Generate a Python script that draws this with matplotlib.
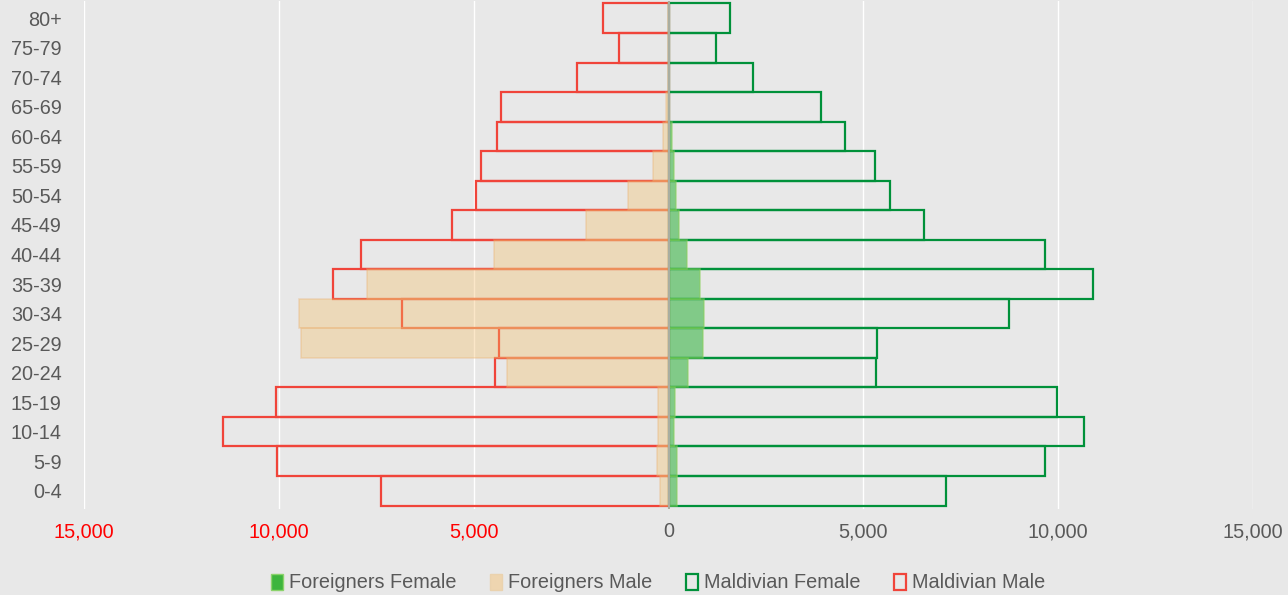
import numpy as np
import matplotlib
matplotlib.use('Agg')
import matplotlib.pyplot as plt
from matplotlib.patches import Patch
from matplotlib.ticker import FuncFormatter

plt.rcParams['font.family'] = ['Liberation Sans', 'DejaVu Sans']

# age groups, bottom to top
ages = ['0-4', '5-9', '10-14', '15-19', '20-24', '25-29', '30-34', '35-39', '40-44',
        '45-49', '50-54', '55-59', '60-64', '65-69', '70-74', '75-79', '80+']

maldivian_male = [7385, 10050, 11440, 10080, 4440, 4360, 6850, 8620, 7900,
                  5560, 4950, 4820, 4390, 4310, 2360, 1280, 1670]
maldivian_female = [7130, 9670, 10670, 9970, 5330, 5360, 8740, 10900, 9670,
                    6560, 5690, 5310, 4540, 3920, 2180, 1230, 1590]
foreigners_male = [230, 290, 280, 265, 4150, 9440, 9490, 7740, 4490,
                   2120, 1040, 400, 146, 70, 20, 10, 10]
foreigners_female = [220, 230, 145, 170, 510, 890, 910, 800, 470,
                     280, 195, 130, 80, 20, 10, 5, 5]

y = np.arange(len(ages))
bg = '#E8E8E8'
red = '#F0443A'
dgreen = '#00913A'
fs = 14.3

fig = plt.figure(figsize=(12.88, 5.95), dpi=100, facecolor=bg)
ax = fig.add_axes([84/1288, 1 - 508.5/595, (1253 - 84)/1288, 508/595])
ax.set_facecolor(bg)

# Maldivian outlines first, foreigners drawn semi-transparent over them
ax.barh(y, -np.array(maldivian_male), height=1.0, fill=False, edgecolor=red, linewidth=1.6, zorder=2)
ax.barh(y, maldivian_female, height=1.0, fill=False, edgecolor=dgreen, linewidth=1.6, zorder=2)
ax.barh(y, -np.array(foreigners_male), height=1.0, color='#F6BD64', alpha=0.35,
        edgecolor='#E9B070', linewidth=1.2, zorder=3)
ax.barh(y, foreigners_female, height=1.0, color='#2DB23A', alpha=0.55,
        edgecolor='#8CD060', linewidth=1.2, zorder=3)

ax.axvline(0, color='#A8ADA0', linewidth=1.5, zorder=4)

ax.set_xlim(-15000, 15000)
ax.set_ylim(-0.6, 16.6)
ax.set_xticks([-15000, -10000, -5000, 0, 5000, 10000, 15000])
ax.xaxis.set_major_formatter(FuncFormatter(lambda v, p: f'{abs(v):,.0f}'))
ax.set_yticks(y)
ax.set_yticklabels(ages)
ax.tick_params(axis='both', length=0, labelsize=fs, labelcolor='#595959')
ax.tick_params(axis='x', pad=10)
ax.tick_params(axis='y', pad=16)
for lab, v in zip(ax.get_xticklabels(), ax.get_xticks()):
    if v < 0:
        lab.set_color('#FF0000')
ax.grid(axis='x', color='white', linewidth=1.0, zorder=0)
ax.set_axisbelow(True)
for s in ax.spines.values():
    s.set_visible(False)

handles = [
    Patch(facecolor='#3DB53D', edgecolor='#8BD36B', linewidth=1.0),
    Patch(facecolor='#EED5B0', edgecolor='#EAD2AE', linewidth=1.0),
    Patch(facecolor=bg, edgecolor=dgreen, linewidth=1.6),
    Patch(facecolor=bg, edgecolor=red, linewidth=1.6),
]
labels = ['Foreigners Female', 'Foreigners Male', 'Maldivian Female', 'Maldivian Male']
leg = fig.legend(handles, labels, loc='center', bbox_to_anchor=(658/1288, 1 - 583/595),
                 ncol=4, frameon=False, fontsize=fs, handlelength=0.6, handleheight=0.85,
                 handletextpad=0.3, columnspacing=1.7)
for t in leg.get_texts():
    t.set_color('#595959')

fig.savefig('out.png', dpi=100, facecolor=bg)
